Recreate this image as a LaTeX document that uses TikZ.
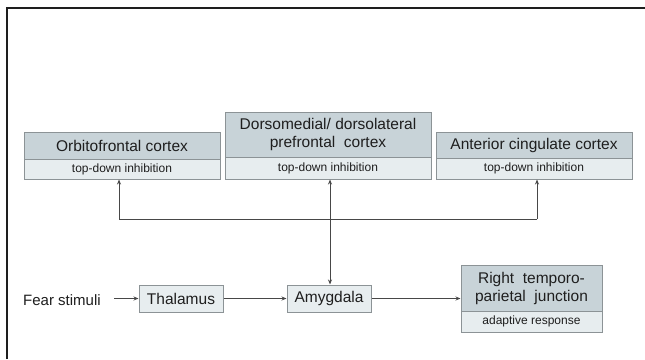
\documentclass[tikz,border=0pt]{standalone}
\usepackage{fontspec}
\setmainfont{Liberation Sans}
\usetikzlibrary{arrows.meta}
\definecolor{hdr}{HTML}{C8D3D8}
\definecolor{sub}{HTML}{E7EDEF}
\definecolor{edge}{HTML}{8C9396}
\definecolor{ink}{HTML}{1E1E1E}
\definecolor{wire}{HTML}{474747}
\begin{document}
\begin{tikzpicture}[x=1pt,y=-1pt,
  hdrbox/.style={draw=edge,line width=1pt,fill=hdr,inner sep=0pt,text=ink,font=\fontsize{15.5}{18}\selectfont,align=center},
  subbox/.style={draw=edge,line width=1pt,fill=sub,inner sep=0pt,text=ink,font=\fontsize{12}{14}\selectfont},
  plainbox/.style={draw=edge,line width=1pt,fill=sub,inner sep=0pt,text=ink,font=\fontsize{15.5}{18}\selectfont},
  conn/.style={draw=wire,line width=1pt},
  arr/.style={conn,-{Stealth[length=5pt,width=4pt]}},
  darr/.style={conn,{Stealth[length=5pt,width=4pt]}-{Stealth[length=5pt,width=4pt]}}
]
\useasboundingbox (0,0) rectangle (645,359);
\fill[white] (0,0) rectangle (645,359);
\draw[line width=1.5pt,ink] (7,359) -- (7,8) -- (645,8);

% top boxes
\node[hdrbox,minimum width=196pt,minimum height=27pt] (ofch) at (122,145.5) {Orbitofrontal cortex};
\node[subbox,minimum width=196pt,minimum height=20pt] (ofcs) at (122,169) {top-down inhibition};
\node[hdrbox,minimum width=206pt,minimum height=45pt] (pfch) at (328,134.5) {Dorsomedial/ dorsolateral\\prefrontal\ \ cortex};
\node[subbox,minimum width=206pt,minimum height=22pt] (pfcs) at (328,168) {top-down inhibition};
\node[hdrbox,minimum width=196pt,minimum height=26pt] (acch) at (534,145) {Anterior cingulate cortex};
\node[subbox,minimum width=196pt,minimum height=21pt] (accs) at (534,168.5) {top-down inhibition};

% bottom row
\node[text=ink,font=\fontsize{15}{18}\selectfont,inner sep=0pt] (fear) at (62,300) {Fear stimuli};
\node[plainbox,minimum width=84pt,minimum height=27pt] (thal) at (181,298.5) {Thalamus};
\node[plainbox,minimum width=84pt,minimum height=27pt] (amyg) at (329,298.5) {Amygdala};
\node[hdrbox,minimum width=141pt,minimum height=46pt] (rtpjh) at (531.5,288) {Right\ \ temporo-\\parietal\ \ junction};
\node[subbox,minimum width=141pt,minimum height=21pt] (rtpjs) at (531.5,321.5) {adaptive response};

% connectors
\coordinate (hl) at (119,219);
\coordinate (hr) at (537,219);
\coordinate (vm) at (330,219);
\coordinate (fs) at (114,298.5);
\draw[arr] (fs) -- (thal.west);
\draw[arr] (thal.east) -- (amyg.west);
\draw[arr] (amyg.east) -- (amyg.east -| rtpjh.west);
\draw[darr] (pfcs.south -| vm) -- (amyg.north -| vm);
\draw[conn] (hl) -- (hr);
\draw[arr] (hl) -- (hl |- ofcs.south);
\draw[arr] (hr) -- (hr |- accs.south);
\end{tikzpicture}
\end{document}
